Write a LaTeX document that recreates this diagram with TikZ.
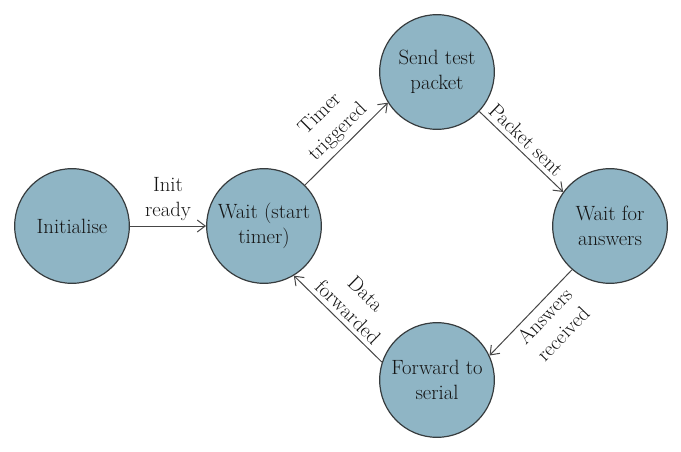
\documentclass[tikz,border=0pt]{standalone}
\usepackage{fontspec}
\usetikzlibrary{arrows.meta}

\begin{document}
\begin{tikzpicture}[x=0.75pt,y=0.75pt,
	circstate/.style={circle, draw={rgb, 255:red, 55; green, 60; blue, 62 }, line width=0.9pt, fill={rgb, 255:red, 143; green, 181; blue, 197 }, minimum size=86pt, inner sep=0pt, align=center, font=\fontsize{15.5pt}{19pt}\selectfont, text={rgb, 255:red, 20; green, 20; blue, 20 }},
	trans/.style={draw={rgb, 255:red, 70; green, 70; blue, 70 }, line width=0.75pt, -{Straight Barb[length=6pt,width=9pt]}},
	translabel/.style={sloped, align=center, font=\fontsize{15.5pt}{19pt}\selectfont, text={rgb, 255:red, 20; green, 20; blue, 20 }}
]
	\useasboundingbox (0,0) rectangle (681,451);

	\node [circstate] (init) at (72,225) {Initialise};
	\node [circstate] (wait) at (264,225) {Wait (start\\timer)};
	\node [circstate] (send) at (437,379) {Send test\\packet};
	\node [circstate] (waitans) at (610,225) {Wait for\\answers};
	\node [circstate] (fwd) at (437,71) {Forward to\\serial};

	\draw [trans] (init) -- node [translabel, above] {Init\\ready} (wait);
	\draw [trans] (wait.45) -- node [translabel, above, pos=0.52] {Timer\\triggered} (send.212);
	\draw [trans] (send.-43) -- node [translabel, above, pos=0.46] {Packet sent} (waitans.144);
	\draw [trans] (waitans.229) -- node [translabel, below, pos=0.44] {Answers\\received} (fwd.25);
	\draw [trans] (fwd.162) -- node [translabel, above, pos=0.48] {Data\\forwarded} (wait.-59);
\end{tikzpicture}
\end{document}
